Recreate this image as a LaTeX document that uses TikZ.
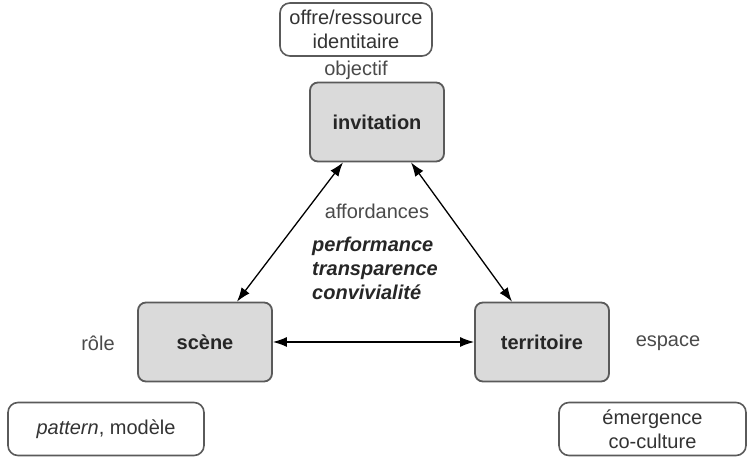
\documentclass[tikz,border=0pt]{standalone}
\usepackage{fontspec}
\setmainfont{Liberation Sans}
\usepackage{xcolor}
\usetikzlibrary{arrows.meta, positioning, calc}

\definecolor{boxline}{HTML}{5A5A5A}
\definecolor{boxfill}{HTML}{DADADA}
\definecolor{labtext}{HTML}{4A4A4A}

\begin{document}
\begin{tikzpicture}[
  x=1pt, y=1pt,
  font=\fontsize{20}{24}\selectfont,
  pole/.style ={rectangle, rounded corners=8pt, draw=boxline, line width=1.8pt, fill=boxfill, align=center, minimum width=134pt, minimum height=79pt, font=\fontsize{20}{24}\selectfont\bfseries, text=black!85},
  note/.style ={rectangle, rounded corners=10pt, draw=boxline, line width=1.6pt, fill=white, align=center, minimum height=53pt, text=black!80},
  lab/.style  ={text=labtext, inner sep=1pt},
  arr/.style  ={{Latex[length=14pt,width=10pt]}-{Latex[length=14pt,width=10pt]}, line width=1.3pt, black}
  ]
  \useasboundingbox (0,0) rectangle (748,462);

  % poles
  \node[pole] (invit) at (377,340) {invitation};
  \node[pole] (scene) at (205,120) {scène};
  \node[pole] (terr)  at (542,120) {territoire};

  % notes
  \node[note, minimum width=152pt] (offre)   at (356,432.5) {offre/ressource\\identitaire};
  \node[note, minimum width=196pt] (pattern) at (106,33)    {\textit{pattern}, modèle};
  \node[note, minimum width=187pt] (emerg)   at (652.5,33)  {émergence\\co-culture};

  % labels
  \node[lab] (objectif) at (356,392) {objectif};
  \node[lab] (role)     at (98,119)  {rôle};
  \node[lab] (espace)   at (668,119) {espace};
  \node[lab] (afford)   at (377,251) {affordances};
  \node[align=left, font=\fontsize{20}{24}\selectfont\bfseries\itshape, text=black!85] (qual) at (375,194)
    {performance\\transparence\\convivialité};

  % arrows
  \draw[arr] ($(invit.south)+(-34,0)$) -- ($(scene.north)+(32,0)$);
  \draw[arr] ($(invit.south)+(34,0)$) -- ($(terr.north)+(-30,0)$);
  \draw[arr] (scene.east) -- (terr.west);

\end{tikzpicture}
\end{document}
